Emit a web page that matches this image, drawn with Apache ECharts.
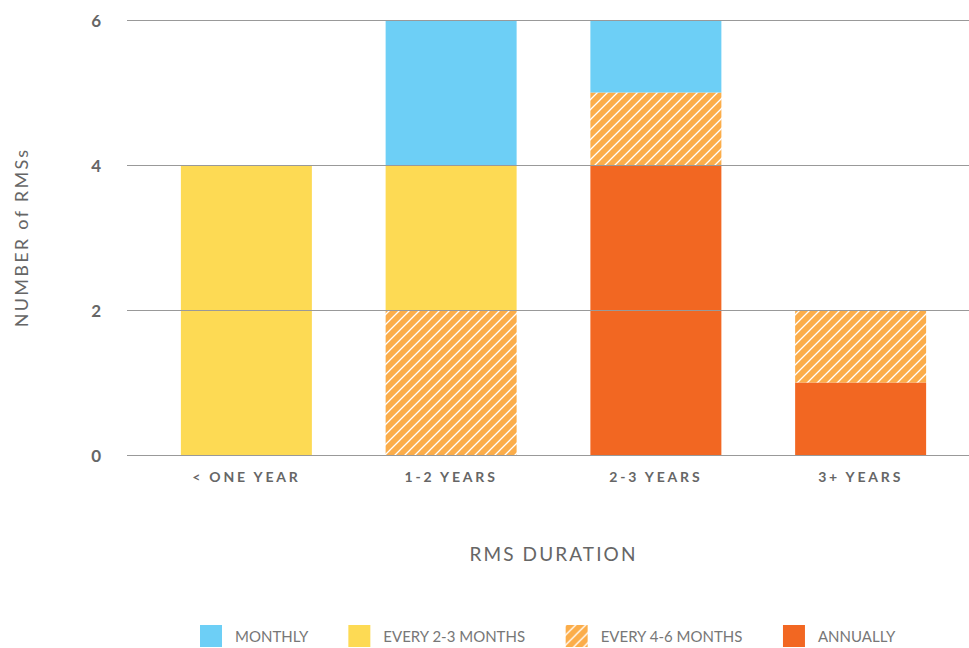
<!DOCTYPE html>
<html><head><meta charset="utf-8">
<script src="https://cdn.jsdelivr.net/npm/echarts@6/dist/echarts.min.js"></script>
<style>html,body{margin:0;padding:0;background:#fff}#c{width:969px;height:648px}</style>
</head><body><div id="c"></div>
<script>
const categories = ['< ONE YEAR', '1-2 YEARS', '2-3 YEARS', '3+ YEARS'];
const annually = [0, 0, 4, 1];
const every46 = [0, 2, 1, 1];
const every23 = [4, 2, 0, 0];
const monthly = [0, 2, 1, 0];
const yTicks = [0, 2, 4, 6];
const xName = 'RMS DURATION';
const yName = 'NUMBER of RMSs';
const legendNames = ['MONTHLY', 'EVERY 2-3 MONTHS', 'EVERY 4-6 MONTHS', 'ANNUALLY'];

function hatch() {
  const s = 10, c = document.createElement('canvas');
  c.width = s; c.height = s;
  const g = c.getContext('2d');
  g.fillStyle = '#FBAD4A'; g.fillRect(0, 0, s, s);
  g.strokeStyle = '#ffffff'; g.lineWidth = 1.3;
  g.beginPath();
  g.moveTo(-1, s + 1); g.lineTo(s + 1, -1);
  g.moveTo(-1, 1); g.lineTo(1, -1);
  g.moveTo(s - 1, s + 1); g.lineTo(s + 1, s - 1);
  g.stroke();
  return c.toDataURL();
}

const chart = echarts.init(document.getElementById('c'), null, {renderer: 'svg'});
const font = 'Lato, "Open Sans", sans-serif';
const mk = (name, data, color) => ({
  name, type: 'bar', stack: 'a', data, barWidth: 131, xAxisIndex: 0, yAxisIndex: 0,
  itemStyle: {color}, z: 2
});
chart.on('finished', () => {
  document.querySelectorAll('#c svg text').forEach(t => {
    const s = t.textContent;
    if (categories.includes(s)) t.setAttribute('letter-spacing', '2.8px');
    else if (s === xName) t.setAttribute('letter-spacing', '2.1px');
    else if (s === yName) t.setAttribute('letter-spacing', '2.3px');
  });
});
chart.setOption({
  animation: false,
  grid: [
    {left: 144, right: 6, top: 20, bottom: 193},
    {left: 127, right: 0, top: 20, bottom: 193}
  ],
  xAxis: [
    {type: 'category', data: categories, gridIndex: 0,
     axisLine: {show: false}, axisTick: {show: false},
     axisLabel: {margin: 14, color: '#666', fontFamily: font, fontWeight: 'bold', fontSize: 14},
     name: xName, nameLocation: 'middle', nameGap: 89,
     nameTextStyle: {color: '#666', fontFamily: font, fontSize: 19, fontWeight: 'normal'}},
    {type: 'value', gridIndex: 1, show: false, min: 0, max: 1}
  ],
  yAxis: [
    {type: 'value', gridIndex: 0, min: 0, max: 6, interval: 2, show: false, splitLine: {show: false}},
    {type: 'value', gridIndex: 1, min: 0, max: 6, interval: 2, z: 5,
     axisLine: {show: false}, axisTick: {show: false},
     axisLabel: {margin: 26, color: '#666', fontFamily: font, fontWeight: 'bold', fontSize: 17,
                 formatter: v => yTicks.includes(v) ? String(v) : ''},
     splitLine: {lineStyle: {color: '#999', width: 1}},
     name: yName, nameLocation: 'middle', nameGap: 97, nameRotate: 90,
     nameTextStyle: {color: '#666', fontFamily: font, fontSize: 18, fontWeight: 'normal'}}
  ],
  legend: {
    left: 200, top: 625, padding: 0, itemWidth: 22, itemHeight: 22, itemGap: 40, icon: 'rect',
    data: legendNames,
    textStyle: {color: '#777', fontFamily: font, fontSize: 15, padding: [0, 0, 0, 8]}
  },
  series: [
    mk(legendNames[3], annually, '#F26722'),
    mk(legendNames[2], every46, {image: hatch(), repeat: 'repeat'}),
    mk(legendNames[1], every23, '#FDDA54'),
    mk(legendNames[0], monthly, '#6DCFF6')
  ]
});
</script></body></html>
